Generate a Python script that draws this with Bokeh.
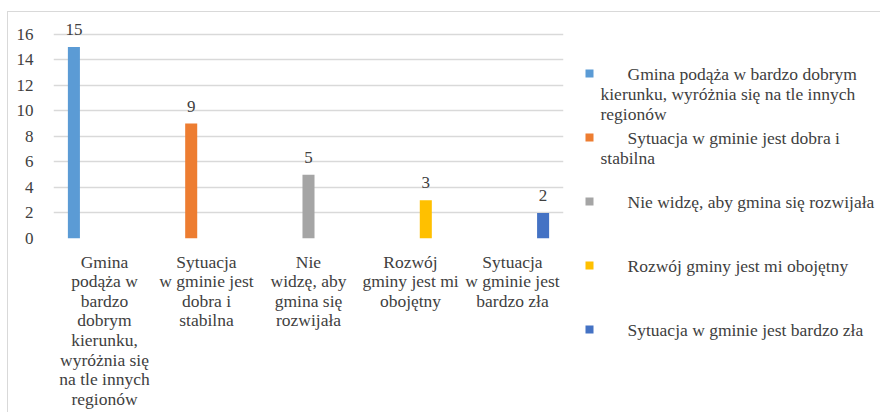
from bokeh.plotting import figure
from bokeh.models import ColumnDataSource, FactorRange, Range1d, LabelSet, FixedTicker, Spacer
from bokeh.transform import dodge
from bokeh.layouts import row, column
from bokeh.embed import file_html
from bokeh.resources import INLINE
from bokeh.core.properties import value

# ---------------- data ----------------
categories = [
    "Gmina podąża w bardzo dobrym kierunku, wyróżnia się na tle innych regionów",
    "Sytuacja w gminie jest dobra i stabilna",
    "Nie widzę, aby gmina się rozwijała",
    "Rozwój gminy jest mi obojętny",
    "Sytuacja w gminie jest bardzo zła",
]
counts = [15, 9, 5, 3, 2]
colors = ["#5B9BD5", "#ED7D31", "#A5A5A5", "#FFC000", "#4472C4"]
axis_labels = [
    "Gmina\npodąża w\nbardzo\ndobrym\nkierunku,\nwyróżnia się\nna tle innych\nregionów",
    "Sytuacja\nw gminie jest\ndobra i\nstabilna",
    "Nie\nwidzę, aby\ngmina się\nrozwijała",
    "Rozwój\ngminy jest mi\nobojętny",
    "Sytuacja\nw gminie jest\nbardzo zła",
]
legend_first = [
    "Gmina podąża w bardzo dobrym",
    "Sytuacja w gminie jest dobra i",
    "Nie widzę, aby gmina się rozwijała",
    "Rozwój gminy jest mi obojętny",
    "Sytuacja w gminie jest bardzo zła",
]
legend_rest = ["kierunku, wyróżnia się na tle innych\nregionów", "stabilna", "", "", ""]
y_ticks = [0, 2, 4, 6, 8, 10, 12, 14, 16]

FONT = "Liberation Serif"
TXT = "#404040"
FS = "17.5px"

# ---------------- main chart ----------------
H = 400
p = figure(
    x_range=FactorRange(*axis_labels), y_range=Range1d(0, 17),
    width=566, height=H, output_backend="svg", toolbar_location=None,
    min_border_left=45, min_border_right=11, min_border_top=9, min_border_bottom=174,
)
p.frame_align = False
p.outline_line_color = None
p.background_fill_color = "white"
p.border_fill_color = "white"

step = 0.15
for i, (lab, cnt) in enumerate(zip(axis_labels, counts)):
    src = ColumnDataSource(dict(x=[lab], y=[cnt], label=[str(cnt)]))
    xs = dodge("x", (i - 2) * step, range=p.x_range)
    p.vbar(x=xs, top="y", width=0.118, source=src, fill_color=colors[i], line_color=None)
    p.add_layout(LabelSet(x=xs, y="y", text="label", source=src,
                          text_align="center", text_baseline="alphabetic", y_offset=12,
                          text_font=FONT, text_font_size="17px", text_color=TXT))

p.xgrid.grid_line_color = None
p.ygrid.grid_line_color = "#d9d9d9"
p.ygrid.grid_line_width = 1.5
p.ygrid.ticker = FixedTicker(ticks=y_ticks)

p.yaxis.ticker = FixedTicker(ticks=y_ticks)
p.yaxis.axis_line_color = None
p.yaxis.major_tick_line_color = None
p.yaxis.minor_tick_line_color = None
p.yaxis.major_label_standoff = 14
p.yaxis.major_label_text_font = FONT
p.yaxis.major_label_text_font_size = "17px"
p.yaxis.major_label_text_color = TXT

p.xaxis.axis_line_color = None
p.xaxis.major_tick_line_color = None
p.xaxis.minor_tick_line_color = None
p.xaxis.major_label_standoff = 7
p.xaxis.major_label_text_font = FONT
p.xaxis.major_label_text_font_size = FS
p.xaxis.major_label_text_line_height = 0.98
p.xaxis.major_label_text_color = TXT

# ---------------- legend panel ----------------
LW = 306
lg = figure(width=LW, height=H, x_range=Range1d(0, LW), y_range=Range1d(H, 0),
            output_backend="svg", toolbar_location=None, min_border=0)
lg.frame_align = False
lg.axis.visible = False
lg.grid.visible = False
lg.outline_line_color = None

row_y = [61 + 64 * i for i in range(len(categories))]
lg.scatter(x=[15] * len(row_y), y=row_y, marker="square", size=8, fill_color=colors, line_color=None)
lg.text(x=[53] * len(row_y), y=row_y, text=legend_first, text_baseline="middle",
        text_font=value(FONT), text_font_size=FS, text_color=TXT)
lg.text(x=[26] * len(row_y), y=[y + 10 for y in row_y], text=legend_rest, text_baseline="top",
        text_font=value(FONT), text_font_size=FS, text_color=TXT, text_line_height=1.03)

inner = row(p, lg, styles={"border-top": "1px solid #d9d9d9", "border-left": "1px solid #d9d9d9"})
layout = column(Spacer(height=11), row(Spacer(width=7), inner))

open("out.html", "w").write(file_html(layout, INLINE))
